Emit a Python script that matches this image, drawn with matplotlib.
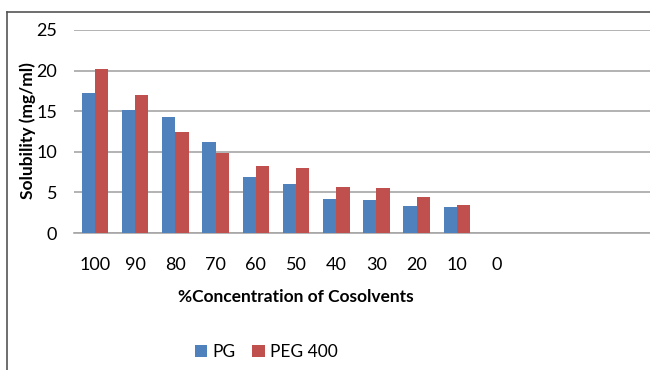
import matplotlib
matplotlib.use('Agg')
import matplotlib.pyplot as plt
import numpy as np
from matplotlib.lines import Line2D

plt.rcParams['font.family'] = ['Lato', 'DejaVu Sans']

categories = ['100', '90', '80', '70', '60', '50', '40', '30', '20', '10', '0']
pg = [17.2, 15.1, 14.3, 11.25, 6.85, 6.0, 4.15, 4.1, 3.3, 3.2, 0]
peg400 = [20.2, 17.0, 12.4, 9.8, 8.2, 8.0, 5.7, 5.6, 4.4, 3.45, 0]

blue = '#4F81BD'
red = '#C0504D'

fig = plt.figure(figsize=(6.5, 3.7), dpi=100)
ax = fig.add_axes([74/650, 1-233/370, 1-74/650, 203/370])

x = np.arange(len(categories))
w = 0.33
ax.bar(x - w/2, pg, w, color=blue, label='PG', zorder=3)
ax.bar(x + w/2, peg400, w, color=red, label='PEG 400', zorder=3)

ax.set_ylim(0, 25)
ax.set_yticks([0, 5, 10, 15, 20, 25])
ax.set_xlim(-0.52, 13.8)
ax.set_xticks(x)
ax.set_xticklabels(categories)
ax.yaxis.grid(True, color='#a6a6a6', linewidth=1.2, zorder=0)
for s in ['top', 'right', 'left']:
    ax.spines[s].set_visible(False)
ax.spines['bottom'].set_color('#a6a6a6')
ax.spines['bottom'].set_linewidth(1.2)
ax.tick_params(axis='both', length=0, labelsize=13, colors='black')
ax.tick_params(axis='y', pad=12)
ax.tick_params(axis='x', pad=17)

fig.text(296/650, 1-297/370, '%Concentration of Cosolvents', ha='center', va='center',
         fontsize=12.5, fontweight='bold')
fig.text(28/650, 1-131/370, 'Solubility (mg/ml)', ha='center', va='center',
         rotation=90, fontsize=12.5, fontweight='bold')

# chart frame
fig.add_artist(Line2D([7/650, 7/650], [0, 1-12/370], color='#555555', linewidth=1.2,
                      transform=fig.transFigure))
fig.add_artist(Line2D([7/650, 1], [1-12/370, 1-12/370], color='#555555', linewidth=1.2,
                      transform=fig.transFigure))

fig.legend(loc='center', bbox_to_anchor=(266/650, 1-352/370), ncol=2, frameon=False,
           fontsize=12.5, handlelength=0.7, handleheight=0.7, handletextpad=0.3,
           columnspacing=1.0)

fig.savefig('out.png', dpi=100)
